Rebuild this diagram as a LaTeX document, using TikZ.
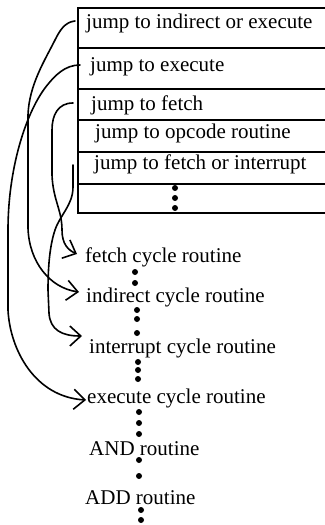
\documentclass[tikz,border=0pt]{standalone}
\usepackage{fontspec}
\setmainfont{Liberation Serif}
\usetikzlibrary{arrows.meta}
\begin{document}
\begin{tikzpicture}[x=1bp,y=-1bp,
  lbl/.style={anchor=base west,inner sep=0pt,font=\fontsize{21bp}{24bp}\selectfont},
  tbl/.style={line width=2.2bp},
  link/.style={line width=1.6bp,line cap=round,line join=round,-{Straight Barb[length=11bp,width=20bp,line width=1.6bp]}},
  dot/.style={circle,fill=black,inner sep=0pt,minimum size=6bp}]
\useasboundingbox[fill=white] (0,0) rectangle (324,525);
% table
\draw[tbl] (326,8) -- (78,8) -- (78,213) -- (326,213);
\foreach \yy in {48,89,120,152,184} \draw[tbl] (78,\yy) -- (326,\yy);
\node[lbl] (r1) at (86,29) {jump to indirect or execute};
\node[lbl] (r2) at (90,72) {jump to execute};
\node[lbl] (r3) at (91,111) {jump to fetch};
\node[lbl] (r4) at (95,139) {jump to opcode routine};
\node[lbl] (r5) at (94,170) {jump to fetch or interrupt};
\node[dot] (t1) at (175,188) {};
\node[dot] (t2) at (175,198) {};
\node[dot] (t3) at (175,208) {};
% routines
\node[lbl] (fe) at (85,262) {fetch cycle routine};
\node[lbl] (in) at (86,302) {indirect cycle routine};
\node[lbl] (ir) at (89,353) {interrupt cycle routine};
\node[lbl] (ex) at (87,403) {execute cycle routine};
\node[lbl] (an) at (89,455) {AND routine};
\node[lbl] (ad) at (85,504) {ADD routine};
\foreach \n/\xx/\yy in {a1/135/272,a2/135/283,
  b1/137/310,b2/137/319,b3/137/333,
  c1/138/362,c2/138/370,c3/138/379,
  e1/139/412,e2/139/423,e3/139/434,
  f1/139/460,f2/139/476,
  g1/141/510,g2/141/520}
  \node[dot] (\n) at (\xx,\yy) {};
% connector ends
\coordinate (s1) at (75,21);
\coordinate (s2) at (80,65);
\coordinate (s3) at (73,103);
\coordinate (s5) at (73,165);
\coordinate (tfe) at (77,254);
\coordinate (tin) at (79,292);
\coordinate (tir) at (82,336);
\coordinate (tex) at (86,400);
% connectors
\draw[link] (s1) .. controls (65,22) and (60,30) .. (55,40)
  .. controls (45,60) and (29,85) .. (28,115) -- (28,228)
  .. controls (29,262) and (50,288) .. (tin);
\draw[link] (s2) .. controls (65,65) and (55,75) .. (45,88)
  .. controls (25,115) and (8,170) .. (8,230) -- (8,310)
  .. controls (10,350) and (35,397) .. (tex);
\draw[link] (s3) .. controls (58,103) and (52,115) .. (52,130) -- (52,175)
  .. controls (53,200) and (62,210) .. (62,230)
  .. controls (62,244) and (68,250) .. (tfe);
\draw[link] (s5) -- (73,187) .. controls (73,205) and (60,215) .. (55,230)
  .. controls (50,245) and (48,265) .. (48,290) -- (49,313)
  .. controls (50,330) and (62,336) .. (tir);
\end{tikzpicture}
\end{document}
